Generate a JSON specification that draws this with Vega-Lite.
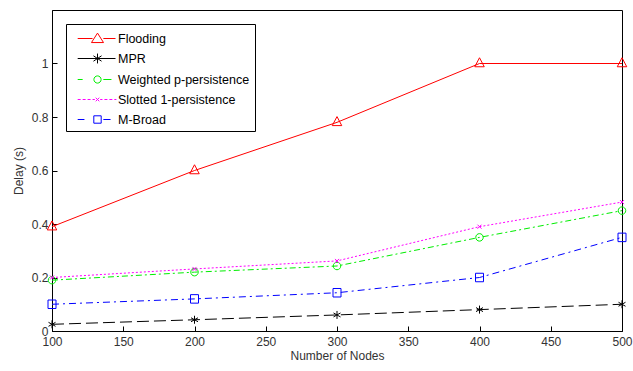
{
  "$schema": "https://vega.github.io/schema/vega-lite/v6.json",
  "width": 570,
  "height": 321,
  "autosize": {"type": "none"},
  "padding": {"left": 52, "top": 10, "right": 11, "bottom": 40},
  "config": {
    "view": {"stroke": "#000", "strokeWidth": 1},
    "font": "Liberation Sans",
    "axis": {
      "grid": false,
      "labelFontSize": 12,
      "labelColor": "#333",
      "titleFontSize": 12,
      "titleFontWeight": "normal",
      "titleColor": "#333",
      "domainColor": "#000",
      "tickColor": "#000",
      "tickSize": -5
    },
    "legend": {
      "orient": "top-left",
      "offset": 14,
      "strokeColor": "#000",
      "fillColor": "white",
      "padding": 5,
      "symbolSize": 324,
      "symbolOffset": 17,
      "labelOffset": 11,
      "rowPadding": 4,
      "labelFontSize": 12.5,
      "symbolStrokeWidth": 1,
      "symbolOpacity": 1
    }
  },
  "data": {
    "values": [
      {"series": "Flooding", "nodes": 100, "delay": 0.39},
      {"series": "Flooding", "nodes": 200, "delay": 0.6},
      {"series": "Flooding", "nodes": 300, "delay": 0.78},
      {"series": "Flooding", "nodes": 400, "delay": 1.0},
      {"series": "Flooding", "nodes": 500, "delay": 1.0},
      {"series": "MPR", "nodes": 100, "delay": 0.025},
      {"series": "MPR", "nodes": 200, "delay": 0.042},
      {"series": "MPR", "nodes": 300, "delay": 0.06},
      {"series": "MPR", "nodes": 400, "delay": 0.08},
      {"series": "MPR", "nodes": 500, "delay": 0.1},
      {"series": "Weighted p-persistence", "nodes": 100, "delay": 0.19},
      {"series": "Weighted p-persistence", "nodes": 200, "delay": 0.22},
      {"series": "Weighted p-persistence", "nodes": 300, "delay": 0.243},
      {"series": "Weighted p-persistence", "nodes": 400, "delay": 0.35},
      {"series": "Weighted p-persistence", "nodes": 500, "delay": 0.45},
      {"series": "Slotted 1-persistence", "nodes": 100, "delay": 0.2},
      {"series": "Slotted 1-persistence", "nodes": 200, "delay": 0.232},
      {"series": "Slotted 1-persistence", "nodes": 300, "delay": 0.262},
      {"series": "Slotted 1-persistence", "nodes": 400, "delay": 0.39},
      {"series": "Slotted 1-persistence", "nodes": 500, "delay": 0.482},
      {"series": "M-Broad", "nodes": 100, "delay": 0.1},
      {"series": "M-Broad", "nodes": 200, "delay": 0.12},
      {"series": "M-Broad", "nodes": 300, "delay": 0.143},
      {"series": "M-Broad", "nodes": 400, "delay": 0.2},
      {"series": "M-Broad", "nodes": 500, "delay": 0.35}
    ]
  },
  "layer": [
    {
      "transform": [{"filter": "datum.series === 'Flooding'"}],
      "mark": {"type": "line", "strokeWidth": 1, "color": "#ff0000"},
      "encoding": {
        "x": {
          "field": "nodes", "type": "quantitative",
          "scale": {"domain": [100, 500], "nice": false, "zero": false},
          "axis": {"title": "Number of Nodes", "values": [100, 150, 200, 250, 300, 350, 400, 450, 500], "labelPadding": 10, "titlePadding": 3, "labelFlush": false}
        },
        "y": {
          "field": "delay", "type": "quantitative",
          "scale": {"domain": [0, 1.2], "nice": false},
          "axis": {"title": "Delay (s)", "values": [0, 0.2, 0.4, 0.6, 0.8, 1], "format": "~g", "labelPadding": 9, "titlePadding": 6}
        }
      }
    },
    {
      "transform": [{"filter": "datum.series === 'MPR'"}],
      "mark": {"type": "line", "strokeWidth": 1, "color": "#000000", "strokeDash": [12, 5]},
      "encoding": {"x": {"field": "nodes", "type": "quantitative"}, "y": {"field": "delay", "type": "quantitative"}}
    },
    {
      "transform": [{"filter": "datum.series === 'Weighted p-persistence'"}],
      "mark": {"type": "line", "strokeWidth": 1, "color": "#00ee00", "strokeDash": [6, 3, 2, 3]},
      "encoding": {"x": {"field": "nodes", "type": "quantitative"}, "y": {"field": "delay", "type": "quantitative"}}
    },
    {
      "transform": [{"filter": "datum.series === 'Slotted 1-persistence'"}],
      "mark": {"type": "line", "strokeWidth": 1, "color": "#ff00ff", "strokeDash": [2, 2]},
      "encoding": {"x": {"field": "nodes", "type": "quantitative"}, "y": {"field": "delay", "type": "quantitative"}}
    },
    {
      "transform": [{"filter": "datum.series === 'M-Broad'"}],
      "mark": {"type": "line", "strokeWidth": 1, "color": "#0000ff", "strokeDash": [7, 4, 2, 4]},
      "encoding": {"x": {"field": "nodes", "type": "quantitative"}, "y": {"field": "delay", "type": "quantitative"}}
    },
    {
      "transform": [{"filter": "datum.series === 'Flooding'"}],
      "mark": {"type": "point", "filled": false, "strokeWidth": 1, "size": 100, "color": "#ff0000", "opacity": 1, "shape": "M0,-1.15L0.95,0.65L-0.95,0.65Z"},
      "encoding": {"x": {"field": "nodes", "type": "quantitative"}, "y": {"field": "delay", "type": "quantitative"}}
    },
    {
      "transform": [{"filter": "datum.series === 'MPR'"}],
      "mark": {"type": "point", "filled": false, "strokeWidth": 1, "size": 100, "color": "#000000", "opacity": 1, "shape": "M0,-0.8V0.8M-0.7,-0.4L0.7,0.4M-0.7,0.4L0.7,-0.4"},
      "encoding": {"x": {"field": "nodes", "type": "quantitative"}, "y": {"field": "delay", "type": "quantitative"}}
    },
    {
      "transform": [{"filter": "datum.series === 'Weighted p-persistence'"}],
      "mark": {"type": "point", "filled": false, "strokeWidth": 1, "size": 100, "color": "#00ee00", "opacity": 1, "shape": "M0.75,0A0.75,0.75 0 1,1 -0.75,0A0.75,0.75 0 1,1 0.75,0Z"},
      "encoding": {"x": {"field": "nodes", "type": "quantitative"}, "y": {"field": "delay", "type": "quantitative"}}
    },
    {
      "transform": [{"filter": "datum.series === 'Slotted 1-persistence'"}],
      "mark": {"type": "point", "filled": false, "strokeWidth": 1, "size": 100, "color": "#ff00ff", "opacity": 1, "shape": "M-0.4,-0.4L0.4,0.4M-0.4,0.4L0.4,-0.4"},
      "encoding": {"x": {"field": "nodes", "type": "quantitative"}, "y": {"field": "delay", "type": "quantitative"}}
    },
    {
      "transform": [{"filter": "datum.series === 'M-Broad'"}],
      "mark": {"type": "point", "filled": false, "strokeWidth": 1, "size": 100, "color": "#0000ff", "opacity": 1, "shape": "M-0.8,-0.85H0.8V0.85H-0.8Z"},
      "encoding": {"x": {"field": "nodes", "type": "quantitative"}, "y": {"field": "delay", "type": "quantitative"}}
    },
    {
      "mark": {"type": "point", "filled": false, "strokeWidth": 1, "opacity": 0},
      "encoding": {
        "x": {"field": "nodes", "type": "quantitative"},
        "y": {"field": "delay", "type": "quantitative"},
        "color": {
          "field": "series", "type": "nominal", "title": null,
          "scale": {
            "domain": ["Flooding", "MPR", "Weighted p-persistence", "Slotted 1-persistence", "M-Broad"],
            "range": ["#ff0000", "#000000", "#00ee00", "#ff00ff", "#0000ff"]
          }
        },
        "shape": {
          "field": "series", "type": "nominal", "title": null,
          "scale": {
            "domain": ["Flooding", "MPR", "Weighted p-persistence", "Slotted 1-persistence", "M-Broad"],
            "range": [
              "M-2.2,0H-0.55M0.65,0H2M0,-0.6L0.67,0.45L-0.67,0.45Z",
              "M-2.2,0H2M0,-0.55V0.55M-0.45,-0.3L0.45,0.3M-0.45,0.3L0.45,-0.3",
              "M-2.2,0H-1.65M0.65,0H1.55M0.4,0A0.4,0.4 0 1,1 -0.4,0A0.4,0.4 0 1,1 0.4,0Z",
              "M-2.2,0H-1.87M-1.65,0H-1.32M-1.1,0H-0.77M-0.55,0H-0.3M0.3,0H0.55M0.77,0H1.1M1.32,0H1.65M1.87,0H2.1M-0.2,-0.2L0.2,0.2M-0.2,0.2L0.2,-0.2",
              "M-2.2,0H-1.45M0.65,0H1.45M-0.41,-0.41H0.41V0.41H-0.41Z"
            ]
          }
        }
      }
    }
  ]
}
